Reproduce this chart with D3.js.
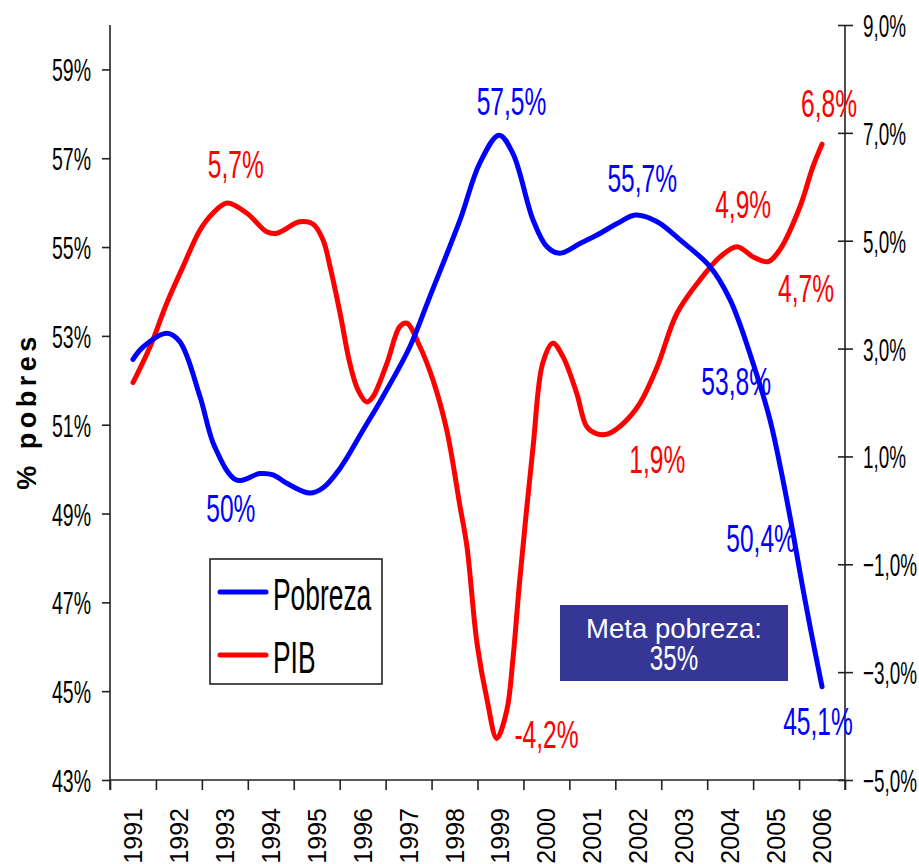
<!DOCTYPE html>
<html>
<head>
<meta charset="utf-8">
<script src="https://cdn.jsdelivr.net/npm/d3@7"></script>
<style>
  body { margin: 0; background: #fff; }
  svg { display: block; font-family: "Liberation Sans", Arial, sans-serif; }
</style>
</head>
<body>
<div id="chart"></div>
<script>
// categories on the x axis
var years = ['1991','1992','1993','1994','1995','1996','1997','1998',
             '1999','2000','2001','2002','2003','2004','2005','2006'];

// Pobreza (% pobres); time as decimal year
var pobrezaTime = [1991, 1991.22, 1991.74, 1992.02, 1992.46, 1992.78, 1993.26,
                   1993.76, 1994.05, 1994.35, 1994.85, 1995.14, 1995.51, 1996.01, 1996.44,
                   1997.03, 1997.46, 1998.12, 1998.55, 1998.97, 1999.27, 1999.71, 2000.01,
                   2000.29, 2000.73, 2001.1, 2001.54, 2001.94, 2002.41, 2002.91, 2003.56,
                   2004.0, 2004.5, 2004.87, 2005.15, 2005.37, 2005.55, 2005.74, 2006];
var pobrezaValues = [52.47, 52.75, 53.06, 52.87, 51.63, 50.5, 49.75,
                     49.9, 49.87, 49.68, 49.46, 49.58, 50.02, 50.88, 51.63,
                     52.76, 53.88, 55.61, 56.89, 57.52, 57.11, 55.61, 55.01,
                     54.86, 55.08, 55.27, 55.53, 55.72, 55.57, 55.16, 54.56,
                     53.81, 52.38, 51.1, 49.75, 48.55, 47.5, 46.45, 45.1];

// PIB growth (%), right axis
var pibTime = [1991, 1991.37, 1991.74, 1992.09, 1992.46, 1992.74, 1993.05, 1993.48,
               1993.92, 1994.13, 1994.63, 1994.92, 1995.14, 1995.29, 1995.51, 1995.72,
               1995.9, 1996.09, 1996.22, 1996.53, 1996.81, 1996.96, 1997.25, 1997.53,
               1997.83, 1998.12, 1998.27, 1998.49, 1998.71, 1998.92, 1999.14, 1999.27,
               1999.42, 1999.71, 1999.92, 2000.14, 2000.36, 2000.66, 2000.88, 2001.1,
               2001.34, 2001.67, 2002.03, 2002.41, 2002.84, 2003.34, 2003.78, 2004.15,
               2004.5, 2004.82, 2005.08, 2005.52, 2005.8, 2006];
var pibValues = [2.37, 3.03, 3.85, 4.52, 5.2, 5.51, 5.7, 5.51,
                 5.16, 5.14, 5.35, 5.31, 5.01, 4.52, 3.65, 2.73,
                 2.23, 2.01, 2.1, 2.73, 3.41, 3.47, 3.03, 2.42,
                 1.49, 0.07, -0.67, -2.47, -3.52, -4.23, -3.7, -2.77,
                 -1.29, 1.18, 2.73, 3.1, 2.85, 2.17, 1.55, 1.42,
                 1.42, 1.61, 1.98, 2.66, 3.65, 4.27, 4.7, 4.89,
                 4.7, 4.61, 4.83, 5.63, 6.37, 6.79];

// tick values
var leftTicks = [43, 45, 47, 49, 51, 53, 55, 57, 59];
var rightTicks = [-5, -3, -1, 1, 3, 5, 7, 9];

// value annotations: year, value, text
var pobrezaLabels = [
  ['1993', 50, '50%'], ['1999', 57.5, '57,5%'], ['2002', 55.7, '55,7%'],
  ['2004', 53.8, '53,8%'], ['2005', 50.4, '50,4%'], ['2006', 45.1, '45,1%']
];
var pibLabels = [
  ['1993', 5.7, '5,7%'], ['1999', -4.2, '-4,2%'], ['2002', 1.9, '1,9%'],
  ['2004', 4.9, '4,9%'], ['2005', 4.7, '4,7%'], ['2006', 6.8, '6,8%']
];
// where each label sits relative to its point
var pobrezaOffsets = [[6, 53], [11, -21], [4, -24], [6, 95], [-15, 101], [-4, 48]];
var pibOffsets = [[11, -25], [46, 11], [19, 65], [13, -28], [30, 45], [7, -27]];

var W = 919, H = 864;
var pl = 110, pr = 845, pt = 25, pb = 780;
var BLUE = '#0000ff', RED = '#ff0000';

var svg = d3.select('#chart').append('svg')
  .attr('width', W).attr('height', H);

var xBand = d3.scaleBand().domain(years).range([pl, pr]);
var bw = xBand.bandwidth();
var xTime = d3.scaleLinear().domain([1991, 2006])
  .range([xBand('1991') + bw / 2, xBand('2006') + bw / 2]);
var xEdge = d3.scaleLinear().domain([0, years.length]).range([pl, pr]);
var yLeft = d3.scaleLinear().domain([43, 60]).range([pb, pt]);
var yRight = d3.scaleLinear().domain([-5, 9]).range([pb, pt]);

// text squeezed sideways like the stretched original
function squeeze(sel, sx) {
  sel.each(function() {
    var t = d3.select(this);
    var x = +t.attr('x') || 0;
    t.attr('x', 0).attr('transform', 'translate(' + x + ',0) scale(' + sx + ',1)');
  });
}

// left axis
var gl = svg.append('g').attr('transform', 'translate(' + pl + ',0)')
  .call(d3.axisLeft(yLeft).tickValues(leftTicks).tickSize(8).tickSizeOuter(0)
    .tickFormat(function(d) { return d + '%'; }));
gl.select('.domain').attr('d', 'M0,' + pt + 'V' + (pb + 10));
gl.selectAll('text').attr('font-size', 32).attr('fill', '#000')
  .attr('x', -19).attr('dy', '0.36em').call(squeeze, 0.61);
gl.attr('font-family', null);

// right axis
var gr = svg.append('g').attr('transform', 'translate(' + pr + ',0)')
  .call(d3.axisRight(yRight).tickValues(rightTicks).tickSize(8).tickSizeOuter(0)
    .tickFormat(function(d) { return d3.format('.1f')(d).replace('.', ',') + '%'; }));
gr.select('.domain').attr('d', 'M0,' + pt + 'V' + (pb + 10));
gr.selectAll('.tick line').attr('x1', -7);
gr.selectAll('text').attr('font-size', 32).attr('fill', '#000')
  .attr('x', 18).attr('dy', '0.36em').call(squeeze, 0.59);
gr.attr('font-family', null);

// bottom axis, ticks between the years
var gb = svg.append('g').attr('transform', 'translate(0,' + pb + ')')
  .call(d3.axisBottom(xEdge).ticks(years.length).tickSize(10).tickSizeOuter(0)
    .tickFormat(''));
gb.select('.domain').attr('d', 'M' + pl + ',0H' + pr);

svg.selectAll('.domain, .tick line').attr('stroke', '#222').attr('stroke-width', 1.6);

svg.append('g').selectAll('text').data(years).enter().append('text')
  .attr('transform', function(d) {
    return 'translate(' + (xBand(d) + bw / 2) + ',808) rotate(-90)';
  })
  .attr('text-anchor', 'end').attr('dy', '0.36em')
  .attr('font-size', 25).attr('fill', '#000')
  .text(function(d) { return d; });

// y title
svg.append('text')
  .attr('transform', 'translate(36,411) rotate(-90)')
  .attr('text-anchor', 'middle')
  .attr('font-size', 27).attr('font-weight', 'bold')
  .attr('letter-spacing', 4.5)
  .text('% pobres');

// lines
var pobrezaLine = d3.line()
  .x(function(d, i) { return xTime(pobrezaTime[i]); })
  .y(function(d) { return yLeft(d); })
  .curve(d3.curveCatmullRom.alpha(0.5));
var pibLine = d3.line()
  .x(function(d, i) { return xTime(pibTime[i]); })
  .y(function(d) { return yRight(d); })
  .curve(d3.curveCatmullRom.alpha(0.5));

svg.append('path').datum(pibValues)
  .attr('d', pibLine).attr('fill', 'none').attr('stroke', RED)
  .attr('stroke-width', 5).attr('stroke-linejoin', 'round').attr('stroke-linecap', 'round');
svg.append('path').datum(pobrezaValues)
  .attr('d', pobrezaLine).attr('fill', 'none').attr('stroke', BLUE)
  .attr('stroke-width', 5).attr('stroke-linejoin', 'round').attr('stroke-linecap', 'round');

// value labels
function addLabels(list, offs, y, color) {
  svg.append('g').selectAll('text').data(list).enter().append('text')
    .attr('transform', function(d, i) {
      var px = xBand(d[0]) + bw / 2 + offs[i][0];
      var py = y(d[1]) + offs[i][1];
      return 'translate(' + px + ',' + py + ') scale(0.63,1)';
    })
    .attr('text-anchor', 'middle').attr('font-size', 39).attr('fill', color)
    .text(function(d) { return d[2]; });
}
addLabels(pobrezaLabels, pobrezaOffsets, yLeft, BLUE);
addLabels(pibLabels, pibOffsets, yRight, RED);

// legend
var lg = svg.append('g').attr('transform', 'translate(210,559)');
lg.append('rect').attr('width', 172).attr('height', 125)
  .attr('fill', '#fff').attr('stroke', '#222').attr('stroke-width', 1.6);
[['Pobreza', BLUE, 33], ['PIB', RED, 96]].forEach(function(d) {
  lg.append('line').attr('x1', 10).attr('x2', 56).attr('y1', d[2]).attr('y2', d[2])
    .attr('stroke', d[1]).attr('stroke-width', 5).attr('stroke-linecap', 'round');
  lg.append('text').attr('transform', 'translate(63,' + (d[2] + 18) + ') scale(0.6,1)')
    .attr('font-size', 44).attr('fill', '#000').text(d[0]);
});

// target box
var mb = svg.append('g').attr('transform', 'translate(560,605)');
mb.append('rect').attr('width', 228).attr('height', 76).attr('fill', '#363696');
mb.append('text').attr('transform', 'translate(114,33)')
  .attr('text-anchor', 'middle').attr('font-size', 27.5).attr('fill', '#fff')
  .text('Meta pobreza:');
mb.append('text').attr('transform', 'translate(114,65) scale(0.69,1)')
  .attr('text-anchor', 'middle').attr('font-size', 35).attr('fill', '#fff')
  .text('35%');
</script>
</body>
</html>
